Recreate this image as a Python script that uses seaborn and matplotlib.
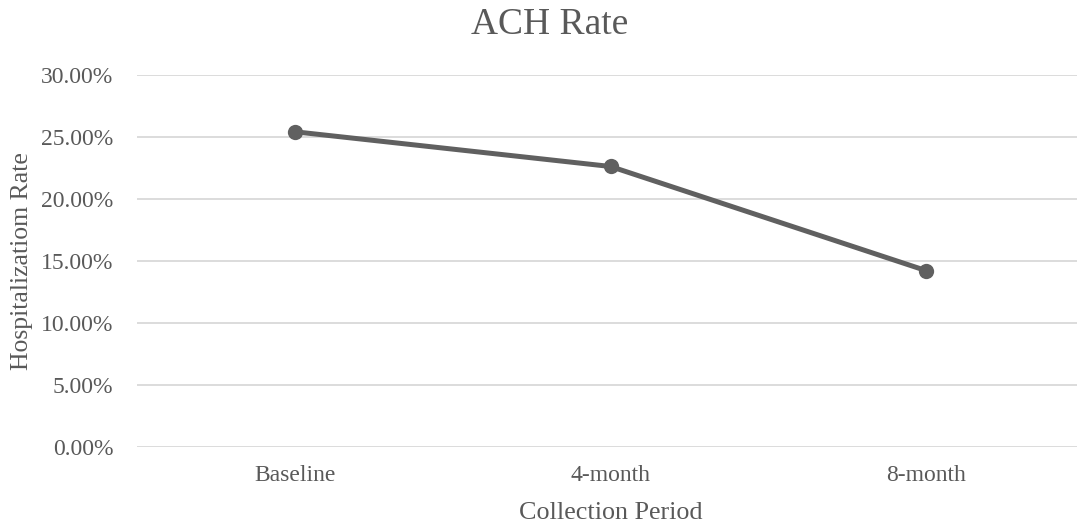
import matplotlib
matplotlib.use("Agg")
import matplotlib.pyplot as plt
import seaborn as sns
import pandas as pd
from matplotlib.ticker import PercentFormatter, MultipleLocator

periods = ["Baseline", "4-month", "8-month"]
rates = [0.254, 0.226, 0.142]

sns.set_theme(style="white")
plt.rcParams['font.family'] = ['Liberation Serif', 'DejaVu Serif']

TXT = "#595959"
df = pd.DataFrame({"period": periods, "rate": rates})

fig = plt.figure(figsize=(10.77, 5.24), dpi=100)
left = 137 / 1077
right = 1084 / 1077
ax = fig.add_axes([left, 0.1475, right - left, 0.8574 - 0.1475])

sns.lineplot(data=df, x="period", y="rate", ax=ax, color="#606060", linewidth=3.6,
             marker="o", markersize=11, markeredgewidth=0, sort=False, zorder=3)
ax.set_xlim(-0.5, 2.5)
ax.set_ylim(0, 0.30)
ax.yaxis.set_major_locator(MultipleLocator(0.05))
ax.yaxis.set_major_formatter(PercentFormatter(1.0, decimals=2))
ax.grid(axis="y", color="#d9d9d9", linewidth=1.3)
ax.set_axisbelow(True)
for s in ax.spines.values():
    s.set_visible(False)
ax.tick_params(axis="y", length=0, pad=17, labelsize=17, labelcolor=TXT)
ax.tick_params(axis="x", length=0, pad=13, labelsize=17, labelcolor=TXT)

ax.set_xlabel("Collection Period", fontsize=18.8, color=TXT, labelpad=12)
ax.set_ylabel("Hospitalizatiom Rate", fontsize=18.5, color=TXT, labelpad=6)
fig.text(550 / 1077, 1 - 25 / 524, "ACH Rate", ha="center", va="center", fontsize=27, color=TXT)

fig.savefig("out.png", dpi=100)
